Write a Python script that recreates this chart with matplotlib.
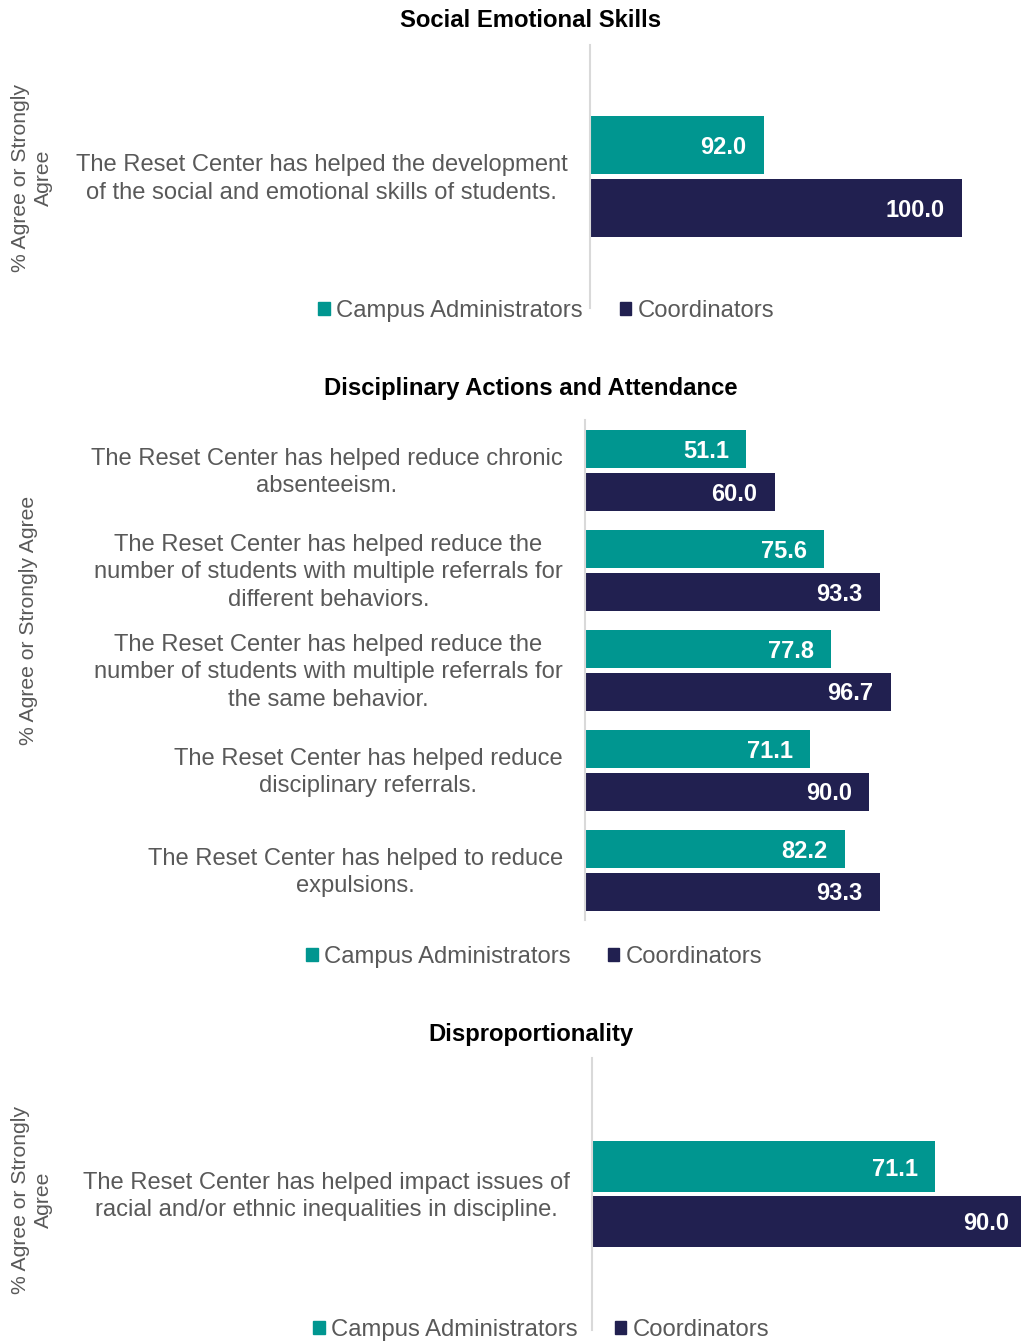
import matplotlib.pyplot as plt
from matplotlib.patches import Patch

plt.rcParams['font.family'] = ['Liberation Sans', 'DejaVu Sans']

W, H = 1021, 1343
TEAL = '#009690'
NAVY = '#212050'
GRAY = '#595959'

series_names = ["Campus Administrators", "Coordinators"]

sel_title = "Social Emotional Skills"
sel_categories = ["The Reset Center has helped the development\nof the social and emotional skills of students."]
sel_admin = [92.0]
sel_coord = [100.0]

disc_title = "Disciplinary Actions and Attendance"
disc_categories = [
    "The Reset Center has helped reduce chronic\nabsenteeism.",
    "The Reset Center has helped reduce the\nnumber of students with multiple referrals for\ndifferent behaviors.",
    "The Reset Center has helped reduce the\nnumber of students with multiple referrals for\nthe same behavior.",
    "The Reset Center has helped reduce\ndisciplinary referrals.",
    "The Reset Center has helped to reduce\nexpulsions.",
]
disc_admin = [51.1, 75.6, 77.8, 71.1, 82.2]
disc_coord = [60.0, 93.3, 96.7, 90.0, 93.3]

disp_title = "Disproportionality"
disp_categories = ["The Reset Center has helped impact issues of\nracial and/or ethnic inequalities in discipline."]
disp_admin = [71.1]
disp_coord = [90.0]

ylabel_short = "% Agree or Strongly\nAgree"
ylabel_long = "% Agree or Strongly Agree"


def px_axes(fig, x0, y0, x1, y1):
    return fig.add_axes([x0 / W, 1 - y1 / H, (x1 - x0) / W, (y1 - y0) / H])


def draw_panel(fig, rect, xlim, cats, admin, coord, bar_px, gap_px,
               title, title_y, ylabel, ylabel_xy, legend_xy):
    ax = px_axes(fig, *rect)
    n = len(cats)
    per_cat = (rect[3] - rect[1]) / n
    h = bar_px / per_cat
    off = (bar_px + gap_px) / 2 / per_cat
    ys = list(range(n))
    b1 = ax.barh([y - off for y in ys], admin, height=h, color=TEAL)
    b2 = ax.barh([y + off for y in ys], coord, height=h, color=NAVY)
    for bars, vals in ((b1, admin), (b2, coord)):
        for bar, v in zip(bars, vals):
            ax.annotate(f"{v:.1f}", xy=(v, bar.get_y() + bar.get_height() / 2),
                        xytext=(-17, 0), textcoords='offset pixels',
                        ha='right', va='center_baseline', color='white',
                        fontsize=17, fontweight='bold', annotation_clip=False)
    ax.set_xlim(*xlim)
    ax.set_ylim(n - 0.5, -0.5)
    # labels sit a few pixels above the bar pair centre
    ax.set_yticks([y - 3 / per_cat for y in ys])
    ax.set_yticklabels(cats, fontsize=17.1, color=GRAY, multialignment='center',
                       linespacing=1.33)
    ax.tick_params(axis='y', length=0, pad=16)
    ax.set_xticks([])
    for s in ('top', 'right', 'bottom'):
        ax.spines[s].set_visible(False)
    ax.spines['left'].set_color('#D9D9D9')
    ax.spines['left'].set_linewidth(1.5)

    fig.text(531 / W, 1 - title_y / H, title, ha='center', va='center_baseline',
             fontsize=17.2, fontweight='bold', color='black')
    fig.text(ylabel_xy[0] / W, 1 - ylabel_xy[1] / H, ylabel, rotation=90,
             ha='center', va='center', fontsize=15.2, color=GRAY,
             multialignment='center')
    handles = [Patch(color=TEAL), Patch(color=NAVY)]
    fig.legend(handles, series_names, loc='center',
               bbox_to_anchor=(legend_xy[0] / W, 1 - legend_xy[1] / H),
               ncol=2, frameon=False, fontsize=17.2, labelcolor=GRAY,
               handlelength=0.5, handleheight=0.5, handletextpad=0.25,
               columnspacing=1.55, borderpad=0, borderaxespad=0)
    return ax


fig = plt.figure(figsize=(W / 100, H / 100), dpi=100)

draw_panel(fig, (590, 45, 962, 308), (85, 100), sel_categories, sel_admin, sel_coord,
           58, 5, sel_title, 18, ylabel_short, (32, 178), (546, 311))
draw_panel(fig, (585, 420, 901, 920), (0, 100), disc_categories, disc_admin, disc_coord,
           38, 5, disc_title, 386, ylabel_long, (28, 620), (534, 957))
draw_panel(fig, (592, 1058, 1021, 1330), (0, 88.9), disp_categories, disp_admin, disp_coord,
           51, 4, disp_title, 1032, ylabel_short, (32, 1200), (541, 1330))

fig.savefig("out.png", dpi=100)
